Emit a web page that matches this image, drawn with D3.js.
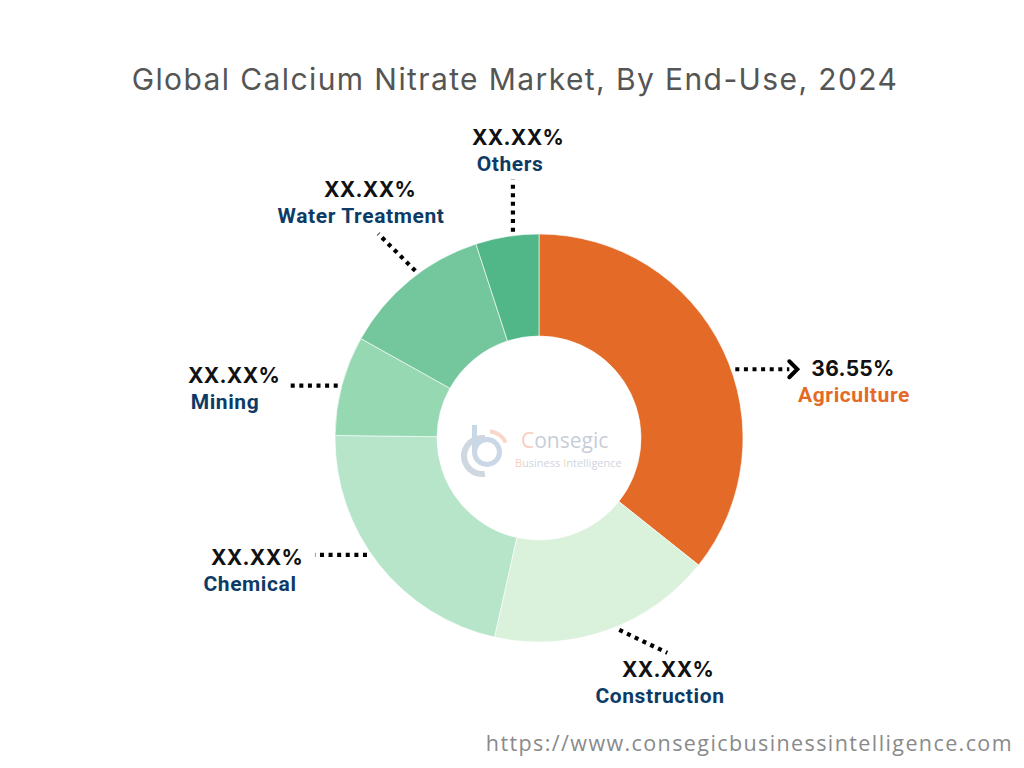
<!DOCTYPE html>
<html>
<head>
<meta charset="utf-8">
<script src="https://cdn.jsdelivr.net/npm/d3@7"></script>
<style>
  html, body { margin: 0; padding: 0; background: #fff; }
  svg { display: block; }
</style>
</head>
<body>
<svg id="chart" width="1024" height="768"></svg>
<script>
// ---- data ----
const categories = ["Agriculture", "Construction", "Chemical", "Mining", "Water Treatment", "Others"];
const values = [35.7, 17.8, 21.7, 7.9, 11.9, 5.0];
const valueLabels = ["36.55%", "XX.XX%", "XX.XX%", "XX.XX%", "XX.XX%", "XX.XX%"];
const sliceColors = ["#E36A27", "#DAF2DC", "#B6E5C9", "#95D8B2", "#74C69D", "#52B788"];
const titleText = "Global Calcium Nitrate Market, By End-Use, 2024";
const sourceText = "https://www.consegicbusinessintelligence.com";

// ---- layout ----
const W = 1024, H = 768;
const cx = 539, cy = 438, R = 204, r0 = 102;
// label layout: leader line start angle (deg, clockwise from north), line vector, text point (relative to center), name offset
const labelLayout = {
  "Others":          { a: 352.8, dx: 0,   dy: -52, tx: -21,  ty: -293, nx: -8,  arrow: false },
  "Water Treatment": { a: 323.5, dx: -37, dy: -37, tx: -169, ty: -241, nx: -9,  arrow: false },
  "Mining":          { a: 284.6, dx: -50, dy: 0,   tx: -305, ty: -55,  nx: -9,  arrow: false },
  "Chemical":        { a: 235.8, dx: -52, dy: 0,   tx: -282, ty: 127,  nx: -7,  arrow: false },
  "Construction":    { a: 157.3, dx: 48,  dy: 23,  tx: 129,  ty: 239,  nx: -8,  arrow: false },
  "Agriculture":     { a: 70.7,  dx: 54,  dy: 0,   tx: 314,  ty: -62,  nx: 1,   arrow: true }
};

const svg = d3.select("#chart");

// title
svg.append("text")
  .attr("x", 515).attr("y", 90)
  .attr("text-anchor", "middle")
  .attr("font-family", "Inter, 'Open Sans', sans-serif")
  .attr("font-size", 30)
  .attr("letter-spacing", 1.4)
  .attr("fill", "#555555")
  .text(titleText);

const g = svg.append("g").attr("transform", `translate(${cx},${cy})`);

const color = d3.scaleOrdinal().domain(categories).range(sliceColors);
const pie = d3.pie().sort(null).value(d => d.value);
const data = categories.map((c, i) => ({ name: c, value: values[i], label: valueLabels[i] }));
const arcs = pie(data);
const arc = d3.arc().innerRadius(r0).outerRadius(R);

g.selectAll("path.slice")
  .data(arcs)
  .enter().append("path")
  .attr("class", "slice")
  .attr("d", arc)
  .attr("fill", d => color(d.data.name))
  .attr("stroke", "#ffffff")
  .attr("stroke-width", 0.6);

// watermark logo in center
const logo = g.append("g").attr("opacity", 0.55);
logo.append("path")
  .attr("d", d3.arc()({ innerRadius: 15, outerRadius: 21, startAngle: Math.PI * 0.95, endAngle: Math.PI * 2.05 }))
  .attr("transform", "translate(-57,18)")
  .attr("fill", "#A9B7C9");
logo.append("path")
  .attr("d", d3.arc()({ innerRadius: 10, outerRadius: 15, startAngle: 0, endAngle: Math.PI * 2 }))
  .attr("transform", "translate(-52,14)")
  .attr("fill", "#9DB7D3");
logo.append("rect").attr("x", -67).attr("y", -13).attr("width", 5).attr("height", 27).attr("fill", "#9DB7D3");
logo.append("path")
  .attr("d", d3.arc()({ innerRadius: 19, outerRadius: 23, startAngle: 0.15, endAngle: 1.1 }))
  .attr("transform", "translate(-52,14)")
  .attr("fill", "#F2B79A");
logo.append("text")
  .attr("x", -18).attr("y", 10)
  .attr("font-family", "'Open Sans', sans-serif").attr("font-size", 21)
  .attr("fill", "#9AA6B8")
  .html('<tspan fill="#F0A889">C</tspan>onsegic');
logo.append("text")
  .attr("x", -24).attr("y", 29)
  .attr("font-family", "'Open Sans', sans-serif").attr("font-size", 11)
  .attr("fill", "#A7B3C4")
  .html('<tspan fill="#F0A889">B</tspan>usiness <tspan fill="#F2C27A">I</tspan>ntelligence');

// leader lines and labels
const labelsG = g.append("g");
arcs.forEach(d => {
  const L = labelLayout[d.data.name];
  const ang = L.a * Math.PI / 180;
  const sx = Math.sin(ang) * (R + 4), sy = -Math.cos(ang) * (R + 4);
  labelsG.append("line")
    .attr("x1", sx).attr("y1", sy)
    .attr("x2", sx + L.dx).attr("y2", sy + L.dy)
    .attr("stroke", "#000").attr("stroke-width", 4.2)
    .attr("stroke-dasharray", "4 4.6");
  if (L.arrow) {
    const ex = sx + L.dx, ey = sy + L.dy;
    labelsG.append("polyline")
      .attr("points", `${ex},${ey - 8} ${ex + 8},${ey} ${ex},${ey + 8}`)
      .attr("fill", "none").attr("stroke", "#000").attr("stroke-width", 4)
      .attr("stroke-linecap", "round").attr("stroke-linejoin", "miter");
  }
  labelsG.append("text")
    .attr("x", L.tx).attr("y", L.ty)
    .attr("text-anchor", "middle")
    .attr("font-family", "Inter, Roboto, sans-serif")
    .attr("font-weight", 700)
    .attr("font-size", 21)
    .attr("letter-spacing", 0.3)
    .attr("fill", "#111")
    .text(d.data.label);
  labelsG.append("text")
    .attr("x", L.tx + L.nx)
    .attr("y", L.ty + 26)
    .attr("text-anchor", "middle")
    .attr("font-family", "Roboto, sans-serif")
    .attr("font-weight", 700)
    .attr("font-size", 21)
    .attr("letter-spacing", 0.6)
    .attr("fill", d.data.name === "Agriculture" ? "#E36A27" : "#0D3B66")
    .text(d.data.name);
});

// source url
svg.append("text")
  .attr("x", 1013).attr("y", 751)
  .attr("text-anchor", "end")
  .attr("font-family", "'Open Sans', sans-serif")
  .attr("font-size", 21.5)
  .attr("letter-spacing", 1.4)
  .attr("fill", "#8a8a8a")
  .text(sourceText);
</script>
</body>
</html>
